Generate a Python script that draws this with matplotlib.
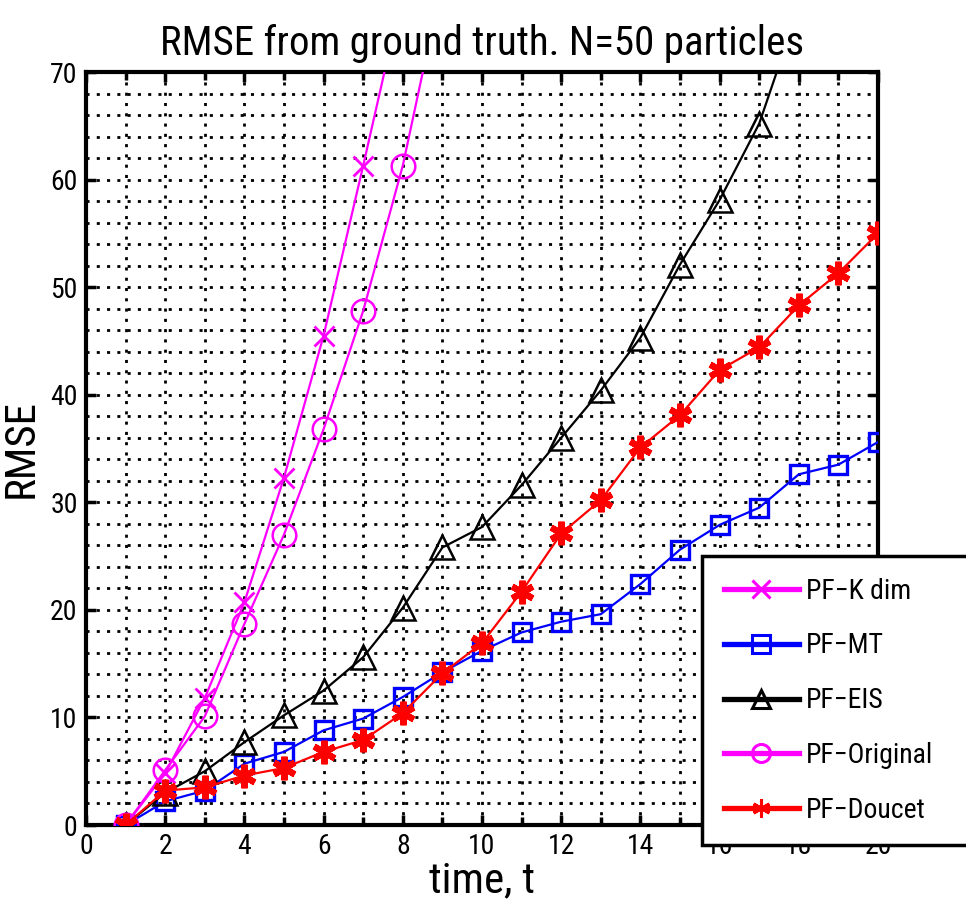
import matplotlib
matplotlib.use("Agg")
import matplotlib.pyplot as plt
from matplotlib.lines import Line2D
from matplotlib.ticker import MultipleLocator

plt.rcParams["font.family"] = ["Roboto Condensed", "Liberation Sans", "DejaVu Sans"]

# RMSE per time step for each particle filter
t_kdim = [1, 2, 3, 4, 5, 6, 7, 8]
rmse_kdim = [0, 4.8, 11.8, 20.7, 32.3, 45.5, 61.3, 77.5]

t_mt = list(range(1, 21))
rmse_mt = [0, 2.2, 3.2, 5.7, 6.8, 8.8, 9.9, 11.9, 14.2, 16.2,
           17.9, 18.9, 19.6, 22.4, 25.6, 27.9, 29.5, 32.6, 33.5, 35.6]

t_eis = list(range(1, 19))
rmse_eis = [0, 3.0, 5.0, 7.7, 10.2, 12.5, 15.6, 20.2, 25.8, 27.7,
            31.6, 36.0, 40.4, 45.3, 52.1, 58.1, 65.2, 76.0]

t_orig = [1, 2, 3, 4, 5, 6, 7, 8, 9]
rmse_orig = [0, 5.1, 10.1, 18.7, 27.0, 36.8, 47.8, 61.3, 78.5]

t_doucet = list(range(1, 21))
rmse_doucet = [0, 3.2, 3.5, 4.6, 5.3, 6.8, 7.9, 10.4, 14.1, 16.9,
               21.7, 27.1, 30.2, 35.1, 38.1, 42.3, 44.4, 48.3, 51.3, 55.0]

labels = ["PF\u2212K dim", "PF\u2212MT", "PF\u2212EIS", "PF\u2212Original", "PF\u2212Doucet"]
colors = ["#ff00ff", "#0000ff", "#000000", "#ff00ff", "#ff0000"]
markers = ["x", "s", "^", "o", (6, 2, 0)]
msizes = [14, 13, 17, 17, 17]
mews = [2.0, 2.4, 1.8, 1.8, 4.5]

series = [(t_kdim, rmse_kdim), (t_mt, rmse_mt), (t_eis, rmse_eis),
          (t_orig, rmse_orig), (t_doucet, rmse_doucet)]

fig = plt.figure(figsize=(9.66, 9.10), dpi=100)
ax = fig.add_axes([86 / 966, 85 / 910, 792 / 966, 753 / 910])

# dotted grid: every time step, every 2 RMSE units
dot = (0, (1.1, 2.6))
for xv in range(1, 20):
    ax.axvline(xv, color="black", lw=2.0, ls=dot, zorder=1)
for yv in range(2, 70, 2):
    ax.axhline(yv, color="black", lw=2.0, ls=dot, zorder=1)

for (tt, yy), lab, c, m, ms, mew in zip(series, labels, colors, markers, msizes, mews):
    ax.plot(tt, yy, color=c, lw=1.6, marker=m, ms=ms, mew=mew,
            mfc="none" if m in ("s", "^", "o") else c, mec=c, zorder=3)

ax.set_xlim(0, 20)
ax.set_ylim(0, 70)
ax.xaxis.set_major_locator(MultipleLocator(2))
ax.xaxis.set_minor_locator(MultipleLocator(1))
ax.yaxis.set_major_locator(MultipleLocator(10))
ax.tick_params(which="both", direction="in", top=True, right=True, width=2.5,
               labelsize=20, pad=6)
ax.tick_params(which="major", length=7)
ax.tick_params(which="minor", length=6)
for sp in ax.spines.values():
    sp.set_linewidth(3)

ax.set_title("RMSE from ground truth. N=50 particles", fontsize=29.5, pad=12)
ax.set_xlabel("time, t", fontsize=31, labelpad=0)
ax.set_ylabel("RMSE", fontsize=31, labelpad=6)

handles = [Line2D([], [], color=c, lw=3.8, marker=m, ms=13, mew=2.2,
                  mfc="none" if m in ("s", "^", "o") else c, mec=c)
           for c, m in zip(colors, markers)]
leg = ax.legend(handles, labels, loc="upper left",
                bbox_to_anchor=(702 / 966, 1 - 556 / 910, 300 / 966, 0),
                bbox_transform=fig.transFigure, mode="expand", fontsize=20,
                frameon=True, fancybox=False, framealpha=1, edgecolor="black",
                borderpad=0.78, labelspacing=1.0, handlelength=2.7,
                handletextpad=0.25, borderaxespad=0)
leg.get_frame().set_linewidth(2.5)
leg.set_zorder(10)

fig.savefig("out.png", dpi=100)
